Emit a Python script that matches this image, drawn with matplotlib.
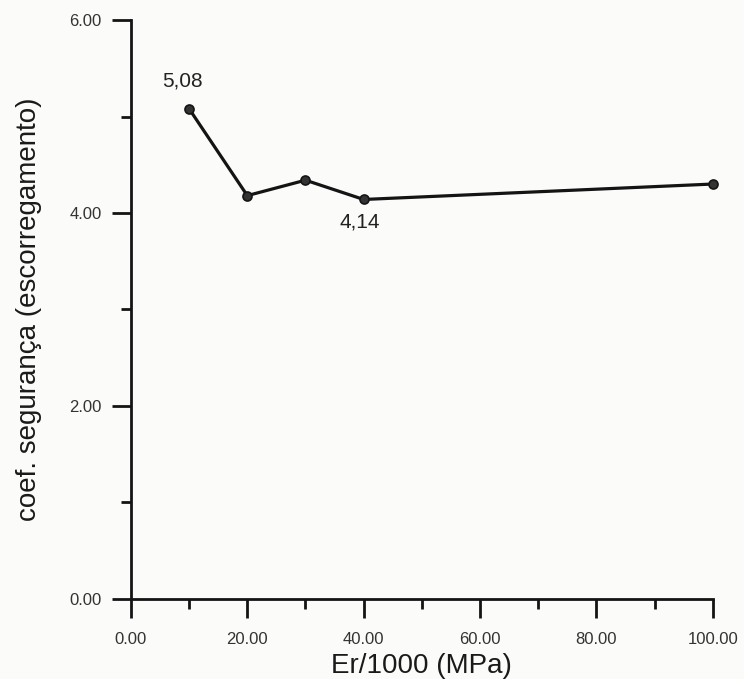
import matplotlib
matplotlib.use("Agg")
import matplotlib.pyplot as plt
from matplotlib.ticker import MultipleLocator, FormatStrFormatter

# Safety factor against sliding as a function of the rock modulus
er_mpa_k = [10, 20, 30, 40, 100]
safety_factor = [5.08, 4.18, 4.34, 4.14, 4.30]
annotated = {0: "5,08", 3: "4,14"}

plt.rcParams['font.family'] = ['Liberation Sans', 'DejaVu Sans']

fig = plt.figure(figsize=(7.44, 6.79), dpi=100, facecolor='#fbfbfa')
ax = fig.add_axes([0.176, 0.118, 0.782, 0.8525])
ax.set_facecolor('#fbfbfa')

ax.plot(er_mpa_k, safety_factor, color='#141414', lw=2.3,
        marker='o', ms=6.5, mfc='#333333', mec='#141414', mew=1.2,
        clip_on=False, zorder=3)

ax.annotate(annotated[0], (er_mpa_k[0], safety_factor[0]),
            xytext=(-5, 20), textcoords='offset points',
            ha='center', va='center', fontsize=15, color='#222222')
ax.annotate(annotated[3], (er_mpa_k[3], safety_factor[3]),
            xytext=(-3, -16), textcoords='offset points',
            ha='center', va='center', fontsize=15, color='#222222')

ax.set_xlim(0, 100)
ax.set_ylim(0, 6)
ax.xaxis.set_major_locator(MultipleLocator(20))
ax.xaxis.set_minor_locator(MultipleLocator(10))
ax.yaxis.set_major_locator(MultipleLocator(2))
ax.yaxis.set_minor_locator(MultipleLocator(1))
ax.xaxis.set_major_formatter(FormatStrFormatter('%.2f'))
ax.yaxis.set_major_formatter(FormatStrFormatter('%.2f'))

for side in ('top', 'right'):
    ax.spines[side].set_visible(False)
for side in ('left', 'bottom'):
    ax.spines[side].set_linewidth(2.0)
    ax.spines[side].set_color('#141414')

ax.tick_params(which='major', direction='out', length=14, width=2.0,
               color='#141414', labelsize=12, labelcolor='#333333')
ax.tick_params(axis='x', which='major', pad=10)
ax.tick_params(axis='y', which='major', pad=7)
ax.tick_params(which='minor', direction='out', length=7, width=2.0,
               color='#141414')

ax.set_xlabel('Er/1000 (MPa)', fontsize=20, color='#1a1a1a', labelpad=4)
ax.set_ylabel('coef. segurança (escorregamento)', fontsize=20,
              color='#1a1a1a', labelpad=20)

fig.savefig('out.png', dpi=100, facecolor=fig.get_facecolor())
